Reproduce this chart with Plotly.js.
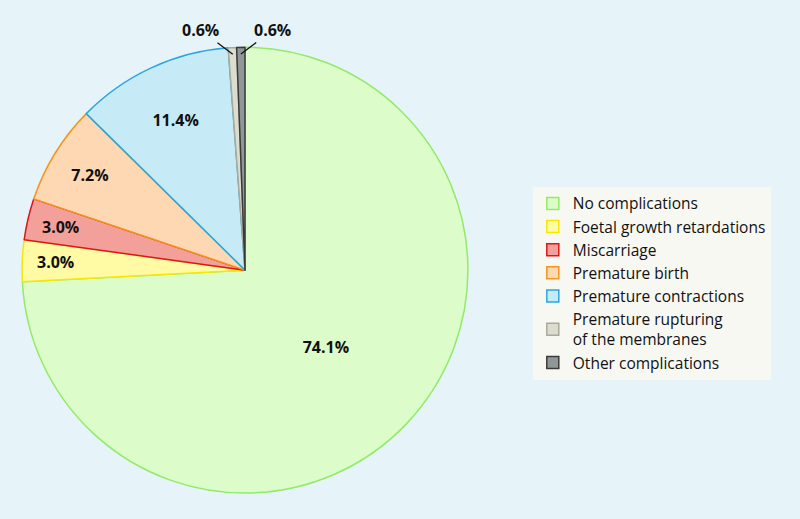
<!DOCTYPE html>
<html><head><meta charset="utf-8">
<script src="https://cdn.plot.ly/plotly-3.0.1.min.js"></script>
<style>body{margin:0;background:#e6f4fa}</style>
</head><body>
<div id="chart" style="width:800px;height:519px"></div>
<script>
const categories = ["No complications","Foetal growth retardations","Miscarriage","Premature birth","Premature contractions","Premature rupturing<br>of the membranes","Other complications"];
const values = [74.1, 3.0, 3.0, 7.2, 11.4, 0.6, 0.6];
const fillColors = ["#dcfcc9","#fffaa3","#f3a09a","#fdd8b3","#c7ebf6","#dcdccf","#8f9896"];
const lineColors = ["#93ea68","#f5e800","#dd1616","#f4951e","#2aa6de","#a9a99c","#3a3a3a"];
const labelText = values.map(v => v.toFixed(1) + "%");

// label handling: big slices use Plotly's own inside text, small ones are annotations
const W = 800, H = 519;
const domX = [0.0275, 0.585], domY = [0.05, 0.909];
const cx = (domX[0] + domX[1]) / 2 * W;
const cy = (1 - (domY[0] + domY[1]) / 2) * H;
const R = Math.min((domX[1] - domX[0]) * W, (domY[1] - domY[0]) * H) / 2;
const total = values.reduce((a, b) => a + b, 0);
const big = values.map(v => v >= 5);

const annotations = [];
let cum = 0;
values.forEach((v, i) => {
  const mid = (cum + v / 2) / total * 2 * Math.PI;
  cum += v;
  if (big[i]) return;
  const font = {family: "Open Sans, sans-serif", size: 16, color: "#111", weight: "bold"};
  if (v >= 2) {
    const r = 0.85 * R;
    annotations.push({xref: "paper", yref: "paper", x: (cx + r * Math.sin(mid)) / W,
      y: 1 - (cy - r * Math.cos(mid)) / H, xanchor: "center", yanchor: "middle",
      text: labelText[i], showarrow: false, font: font});
  } else {
    const r = 0.97 * R;
    const left = Math.sin(mid) < -0.03;
    annotations.push({xref: "paper", yref: "paper", x: (cx + r * Math.sin(mid)) / W,
      y: 1 - (cy - r * Math.cos(mid)) / H, text: labelText[i], showarrow: true,
      arrowhead: 0, arrowwidth: 1.3, arrowcolor: "#111",
      ax: left ? -32 : 32, ay: -24, font: font});
  }
});

Plotly.newPlot("chart", [{
  type: "pie",
  labels: categories,
  values: values,
  text: labelText.map((t, i) => big[i] ? t : ""),
  textinfo: "text",
  textposition: "inside",
  insidetextorientation: "horizontal",
  sort: false,
  direction: "clockwise",
  rotation: 0,
  marker: {colors: fillColors, line: {color: lineColors, width: 1.5}},
  textfont: {family: "Open Sans, sans-serif", size: 16, color: "#111", weight: "bold"},
  domain: {x: domX, y: domY},
  hoverinfo: "none"
}], {
  width: W, height: H,
  margin: {l: 0, r: 0, t: 0, b: 0},
  paper_bgcolor: "#e6f4fa",
  showlegend: true,
  annotations: annotations,
  legend: {x: 0.666, y: 0.64, xanchor: "left", yanchor: "top", bgcolor: "#f8f8f3",
    font: {family: "Open Sans, sans-serif", size: 15.5, color: "#111"}, itemwidth: 30}
}, {displayModeBar: false});
</script>
</body></html>
